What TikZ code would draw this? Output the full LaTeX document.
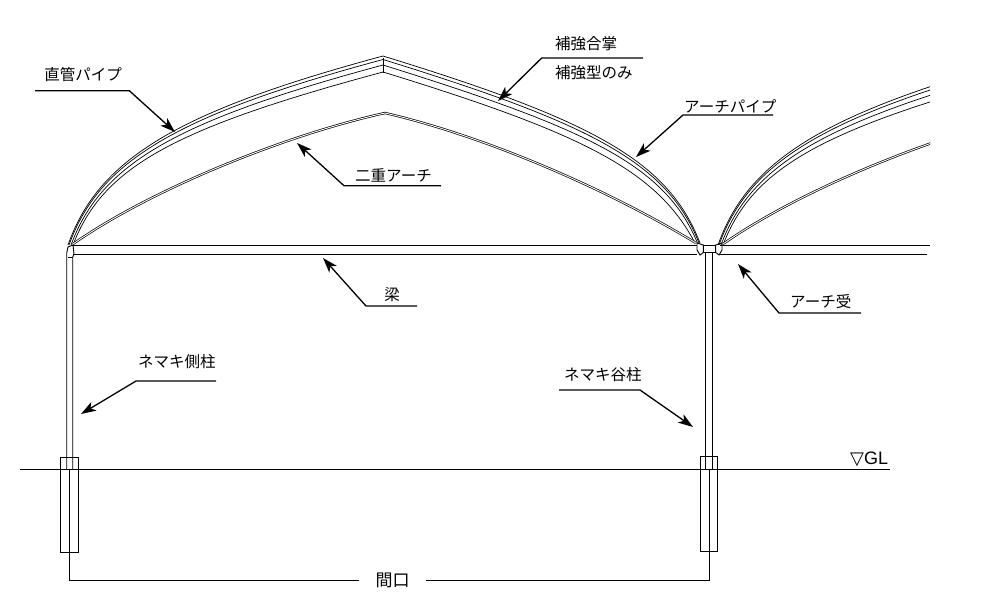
\documentclass[tikz,border=0pt]{standalone}
\usepackage{fontspec}
\setmainfont{Liberation Sans}
\newfontfamily\cjk{Noto Sans CJK JP}
\newfontfamily\symb{DejaVu Sans}
\usetikzlibrary{arrows.meta}
\tikzset{
    pipeline/.style={line width=0.7pt, line join=round},
    wireline/.style={line width=0.9pt},
    leaderline/.style={line width=1.3pt, -{Stealth[length=15pt, width=10pt, inset=4pt]}},
    labeltext/.style={inner sep=0pt, font=\cjk\fontsize{15.5}{17}\selectfont}
}
\newcommand{\leftspan}{
    \draw[pipeline] (68,245) .. controls (98,160) and (175,112) .. (383,56);
    \draw[pipeline] (69,245) .. controls (99,161.5) and (175,115.5) .. (383,59.5);
    \draw[pipeline] (71,245) .. controls (101,164) and (175,121) .. (383,65);
    \draw[pipeline] (73,245) .. controls (103,166.5) and (175,128) .. (383,72);
    \draw[pipeline, double, double distance=0.9pt] (73,244) .. controls (150,190) and (285,135) .. (385,113);
}
\begin{document}
\begin{tikzpicture}[x=1pt, y=-1pt]
    \useasboundingbox (0,0) rectangle (1000,600);

    \leftspan
    \draw[pipeline] (383,56) .. controls (591,120) and (668,160) .. (700,243);
    \draw[pipeline] (383,59.5) .. controls (590,123.5) and (667,162) .. (699,243);
    \draw[pipeline] (383,65) .. controls (588,129) and (665,165) .. (697.5,243);
    \draw[pipeline] (383,72) .. controls (585,134) and (657,171) .. (695,243);
    \draw[pipeline, double, double distance=0.9pt] (385,113) .. controls (480,135) and (600,185) .. (696,243);
    \draw[pipeline] (383,58) -- (383,73);
    \begin{scope}
        \clip (700,0) rectangle (930,300);
        \begin{scope}[xshift=650pt]
            \leftspan
        \end{scope}
    \end{scope}

    \draw[wireline] (73,245.5) -- (697,245.5);
    \draw[wireline] (73,254.5) -- (697,254.5);
    \draw[wireline] (720,245.5) -- (930,245.5);
    \draw[wireline] (720,254.5) -- (927,254.5);

    \draw[wireline] (66.7,469) -- (66.7,253) -- (68,247) -- (73,245) -- (74,254) -- (72.7,257) -- (72.7,469);
    \draw[wireline] (68,257) -- (72.7,257);
    \draw[wireline] (705.7,469) -- (705.7,252.5);
    \draw[wireline] (712.7,469) -- (712.7,252.5);
    \draw[wireline] (703.3,245) rectangle (715.7,252.5);
    \draw[wireline] (697,243) -- (703.3,245) -- (703.3,252.5) -- (700,255) -- (697,250) -- cycle;
    \draw[wireline] (722,243) -- (715.7,245) -- (715.7,252.5) -- (719,255) -- (722,250) -- cycle;

    \draw[wireline] (60.3,457.3) rectangle (78.7,552.3);
    \draw[wireline] (700.3,456.3) rectangle (717.7,551.3);
    \draw[wireline] (20,469.3) -- (890,469.3);
    \node[inner sep=0pt, anchor=west, font=\fontsize{18}{20}\selectfont] (glmark) at (850,459) {{\symb ▽}GL};

    \coordinate (leftbase) at (69.7,469.3);
    \coordinate (rightbase) at (709.7,469.3);
    \node[labeltext, inner xsep=16pt, font=\cjk\fontsize{17}{19}\selectfont] (maguchi) at (392.5,580) {間口};
    \draw[wireline] (leftbase) |- (maguchi.west);
    \draw[wireline] (rightbase) |- (maguchi.east);

    \node[labeltext] (chokkan) at (83,75) {直管パイプ};
    \coordinate (chokkanA) at (35,90.7);
    \coordinate (chokkanB) at (129.3,90.7);
    \coordinate (chokkanT) at (175,132);
    \draw[leaderline] (chokkanA) -- (chokkanB) -- (chokkanT);

    \node[labeltext, anchor=west] (gassho) at (555,44) {補強合掌};
    \node[labeltext, anchor=west] (katanomi) at (555,73) {補強型のみ};
    \coordinate (hokyoA) at (643,58);
    \coordinate (hokyoB) at (541.7,58);
    \coordinate (hokyoT) at (498,101);
    \draw[leaderline] (hokyoA) -- (hokyoB) -- (hokyoT);

    \node[labeltext, anchor=west] (archpipe) at (684,106) {アーチパイプ};
    \coordinate (archpipeA) at (773,115);
    \coordinate (archpipeB) at (683,115);
    \coordinate (archpipeT) at (636,157);
    \draw[leaderline] (archpipeA) -- (archpipeB) -- (archpipeT);

    \node[labeltext, anchor=west] (nijuu) at (355,175) {二重アーチ};
    \coordinate (nijuuA) at (441,185.7);
    \coordinate (nijuuB) at (344,185.7);
    \coordinate (nijuuT) at (297,143);
    \draw[leaderline] (nijuuA) -- (nijuuB) -- (nijuuT);

    \node[labeltext] (hari) at (392,295) {梁};
    \coordinate (hariA) at (417,306);
    \coordinate (hariB) at (366,306);
    \coordinate (hariT) at (323,258);
    \draw[leaderline] (hariA) -- (hariB) -- (hariT);

    \node[labeltext, anchor=west] (archuke) at (790,302) {アーチ受};
    \coordinate (archukeA) at (861,313);
    \coordinate (archukeB) at (779,313);
    \coordinate (archukeT) at (738,264);
    \draw[leaderline] (archukeA) -- (archukeB) -- (archukeT);

    \node[labeltext, anchor=west] (sokuchu) at (138,362) {ネマキ側柱};
    \coordinate (sokuchuA) at (216,381);
    \coordinate (sokuchuB) at (136,381);
    \coordinate (sokuchuT) at (81,414);
    \draw[leaderline] (sokuchuA) -- (sokuchuB) -- (sokuchuT);

    \node[labeltext, anchor=west] (tanichu) at (564,375) {ネマキ谷柱};
    \coordinate (tanichuA) at (559,390);
    \coordinate (tanichuB) at (640,390);
    \coordinate (tanichuT) at (693,427);
    \draw[leaderline] (tanichuA) -- (tanichuB) -- (tanichuT);
\end{tikzpicture}
\end{document}
